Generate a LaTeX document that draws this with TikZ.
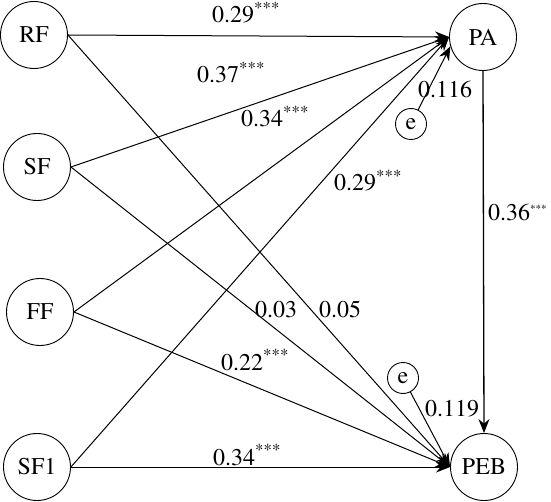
\documentclass[tikz,border=0pt]{standalone}
\usepackage{fontspec}
\setmainfont{TeX Gyre Termes}
\usetikzlibrary{arrows.meta}
\begin{document}
\begin{tikzpicture}[x=1pt,y=-1pt,
  var/.style={circle,draw,line width=0.9pt,minimum size=67pt,inner sep=0pt,font=\fontsize{24}{28}\selectfont},
  err/.style={circle,draw,line width=0.9pt,minimum size=31pt,inner sep=0pt,font=\fontsize{24}{28}\selectfont},
  arr/.style={line width=1pt,-{Stealth[length=14pt,width=11pt]}},
  lab/.style={anchor=base west,inner sep=0pt,font=\fontsize{24}{28}\selectfont}]
\useasboundingbox (0,0) rectangle (551,502);
% variables
\node[var] (RF)  at (34,35)  {RF};
\node[var] (SF)  at (37,167) {SF};
\node[var] (FF)  at (40,312) {FF};
\node[var] (SF1) at (37,467) {SF1};
\node[var] (PA)  at (483,37) {PA};
\node[var] (PEB) at (484,467) {PEB};
\node[err] (e1)  at (411,124) {e};
\node[err] (e2)  at (403,378) {e};
% paths to PA
\draw[arr] (RF.east)  -- (PA.west);
\draw[arr] (SF.east)  -- (PA.west);
\draw[arr] (FF.east)  -- (PA.west);
\draw[arr] (SF1.east) -- (PA.west);
\draw[arr] (e1) -- (PA.196);
% paths to PEB
\draw[arr] (RF.east)  -- (PEB.west);
\draw[arr] (SF.east)  -- (PEB.west);
\draw[arr] (FF.east)  -- (PEB.west);
\draw[arr] (SF1.east) -- (PEB.west);
\draw[arr] (e2) -- (PEB.west);
\draw[arr,line width=1.3pt] (PA.south) -- (PEB.north);
% labels
\node[lab] (l1)  at (212,23)  {0.29\textsuperscript{***}};
\node[lab] (l2)  at (197,83)  {0.37\textsuperscript{***}};
\node[lab] (l3)  at (241,127) {0.34\textsuperscript{***}};
\node[lab] (l4)  at (418,98)  {0.116};
\node[lab] (l5)  at (334,191) {0.29\textsuperscript{***}};
\node[lab] (l6)  at (488,221) {0.36\raisebox{8pt}{\fontsize{11}{11}\selectfont ***}};
\node[lab] (l7)  at (255,318) {0.03};
\node[lab] (l8)  at (319,318) {0.05};
\node[lab] (l9)  at (221,370) {0.22\textsuperscript{***}};
\node[lab] (l10) at (425,416) {0.119};
\node[lab] (l11) at (213,465) {0.34\textsuperscript{***}};
\end{tikzpicture}
\end{document}
